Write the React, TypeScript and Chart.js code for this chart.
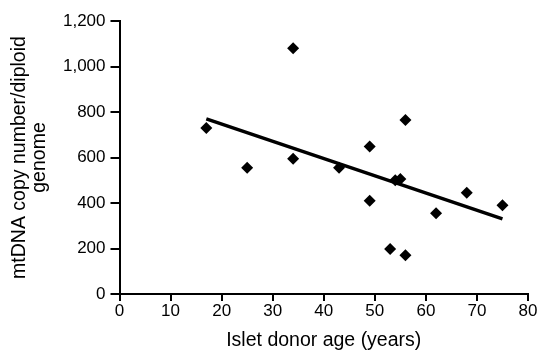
import React, { useEffect, useRef } from "react";
import { Chart, registerables } from "chart.js";

Chart.register(...registerables);

const donorAge = [17, 25, 34, 34, 43, 49, 49, 53, 54, 55, 56, 56, 62, 68, 75];
const mtDNA = [730, 555, 1080, 595, 555, 648, 410, 198, 500, 505, 765, 170, 355, 445, 390];
const fitAge = [17, 75];
const fitValue = [770, 330];
const xTicks = [0, 10, 20, 30, 40, 50, 60, 70, 80];
const yTicks = [0, 200, 400, 600, 800, 1000, 1200];
const xTitle = "Islet donor age (years)";
const yTitle = ["mtDNA copy number/diploid", "genome"];

const FONT = "'Liberation Sans', Arial, Helvetica, sans-serif";

export default function App() {
  const ref = useRef<HTMLCanvasElement | null>(null);
  useEffect(() => {
    document.body.style.margin = "0";
    const ctx = ref.current!;
    const chart = new Chart(ctx, {
      type: "scatter",
      data: {
        datasets: [
          {
            type: "line",
            data: fitAge.map((x, i) => ({ x, y: fitValue[i] })),
            borderColor: "#000",
            borderWidth: 3.5,
            pointRadius: 0,
            fill: false,
          } as any,
          {
            data: donorAge.map((x, i) => ({ x, y: mtDNA[i] })),
            pointStyle: "rectRot",
            pointRadius: 6,
            backgroundColor: "#000",
            borderColor: "#000",
            borderWidth: 0,
          },
        ],
      },
      options: {
        animation: false,
        responsive: false,
        layout: { padding: { left: 0, top: 21, right: 11, bottom: 0 } },
        plugins: { legend: { display: false }, tooltip: { enabled: false } },
        scales: {
          x: {
            type: "linear",
            min: 0,
            max: 80,
            afterBuildTicks: (s: any) => {
              s.ticks = xTicks.map((v) => ({ value: v }));
            },
            afterFit: (s: any) => {
              s.height = 63;
            },
            ticks: { color: "#000", font: { family: FONT, size: 17 }, padding: 0 },
            grid: { drawOnChartArea: false, drawTicks: true, tickLength: 7, color: "#000", lineWidth: 2 },
            border: { display: true, color: "#000", width: 2 },
            title: {
              display: true,
              text: xTitle,
              color: "#000",
              font: { family: FONT, size: 19.5 },
              padding: { top: 4, bottom: 5 },
            },
          },
          y: {
            type: "linear",
            min: 0,
            max: 1200,
            afterBuildTicks: (s: any) => {
              s.ticks = yTicks.map((v) => ({ value: v }));
            },
            afterFit: (s: any) => {
              s.width = 119.5;
            },
            ticks: {
              color: "#000",
              font: { family: FONT, size: 17 },
              padding: 5,
              callback: (v: any) => Number(v).toLocaleString("en-US"),
            },
            grid: { drawOnChartArea: false, drawTicks: true, tickLength: 9, color: "#000", lineWidth: 2 },
            border: { display: true, color: "#000", width: 2 },
            title: {
              display: true,
              text: yTitle,
              color: "#000",
              font: { family: FONT, size: 19.5, lineHeight: 1.05 },
              padding: { top: 9, bottom: 0 },
            },
          },
        },
      },
    });
    return () => chart.destroy();
  }, []);
  return (
    <div style={{ width: 539, height: 357 }}>
      <canvas ref={ref} width={539} height={357} />
    </div>
  );
}
